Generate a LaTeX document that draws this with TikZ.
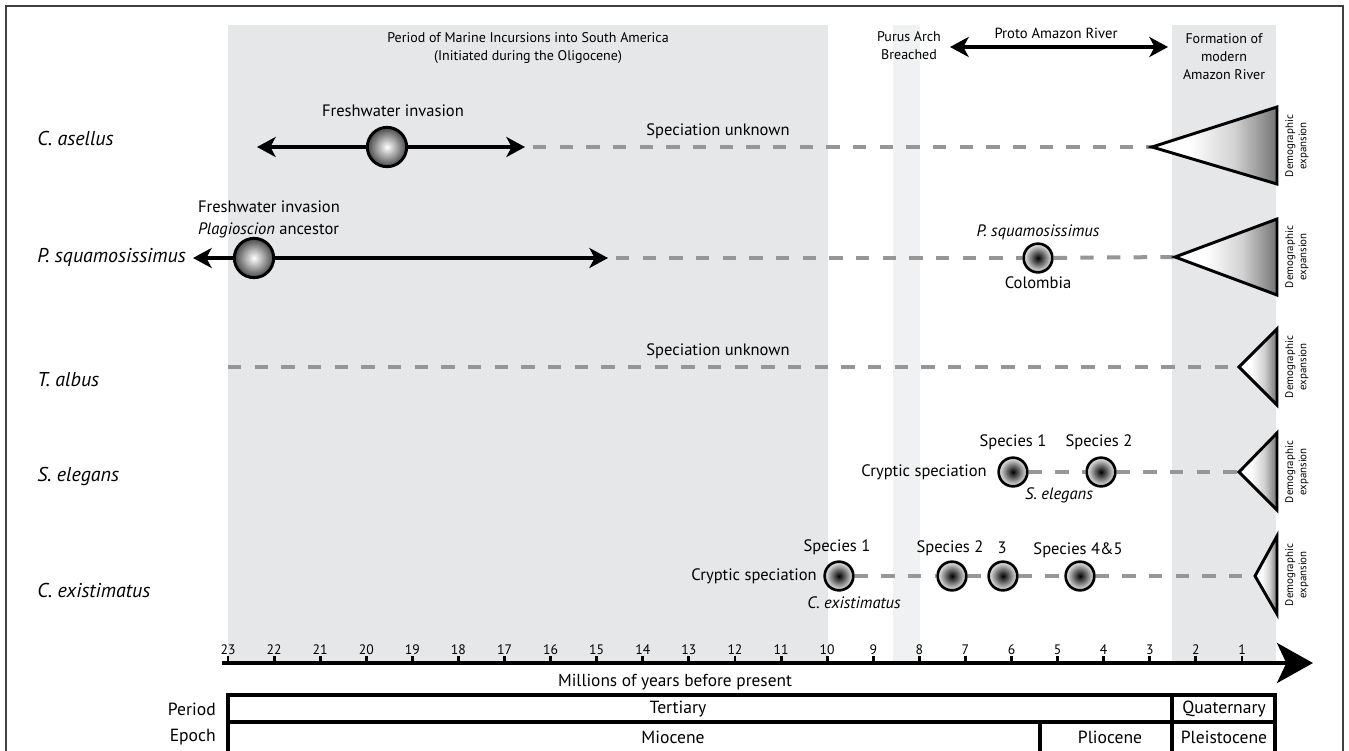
\documentclass[tikz,border=0pt]{standalone}
\usepackage{fontspec}
\setmainfont{PT Sans}
\usetikzlibrary{arrows.meta}
\definecolor{band}{RGB}{230,231,233}
\definecolor{bandlt}{RGB}{240,241,243}
\definecolor{dgray}{RGB}{150,150,150}
\pgfdeclarehorizontalshading{trishade}{100bp}{color(0bp)=(white); color(25bp)=(white); color(40bp)=(white); color(58bp)=(black!18); color(75bp)=(black!55); color(100bp)=(black!55)}
\begin{document}
\begin{tikzpicture}[x=0.75pt,y=-0.75pt,
  >={Stealth[length=14pt,width=15pt,inset=4pt]},
  lbl/.style={font=\fontsize{12.4}{16.5}\selectfont,inner sep=0pt},
  ital/.style={font=\fontsize{12.4}{16.5}\selectfont\itshape,inner sep=0pt},
  rowlbl/.style={font=\fontsize{15}{17}\selectfont\itshape,anchor=west,inner sep=0pt},
  toplbl/.style={font=\fontsize{10.5}{13.5}\selectfont,align=center,inner sep=0pt},
  demo/.style={font=\fontsize{8.2}{10}\selectfont,align=center,rotate=90,inner sep=0pt},
  ticklbl/.style={font=\fontsize{10.3}{12}\selectfont,inner sep=0pt,anchor=base},
  tbl/.style={font=\fontsize{13.2}{15}\selectfont,inner sep=0pt},
  arr/.style={line width=3pt},
  dsh/.style={line width=3pt,dgray,dash pattern=on 10pt off 10pt},
  ball/.style={circle,draw=black,line width=2.2pt,minimum size=29.5pt,inner sep=0pt,shading=radial,inner color=white,outer color=black!72},
  spc/.style={circle,draw=black,line width=2pt,minimum size=21.5pt,inner sep=0pt,shading=radial,inner color=black,outer color=black!6},
  tri/.style={draw=black,line width=2.2pt,line join=miter,shading=trishade},
  tline/.style={line width=3pt}
]
\useasboundingbox (0,0) rectangle (1349,750);
\fill[white] (0,0) rectangle (1349,750);
% background bands
\fill[band] (228,25) rectangle (828,661);
\fill[bandlt] (893,25) rectangle (920,661);
\fill[band] (1172,25) rectangle (1276,661);
\draw[black!75,line width=1.1pt] (6,6) rectangle (1343,770);

% top labels
\node[toplbl] (marine) at (528,48) {Period of Marine Incursions into South America\\(Initiated during the Oligocene)};
\node[toplbl] (purus) at (909,46) {Purus Arch\\Breached};
\node[toplbl,font=\fontsize{11}{13.5}\selectfont] (proto) at (1056,33) {Proto Amazon River};
\coordinate (pL) at (950,47);
\coordinate (pR) at (1168,47);
\draw[line width=2.5pt,<->] (pL) -- (pR);
\node[toplbl] (form) at (1224,57) {Formation of\\modern\\Amazon River};

% Row 1: C. asellus
\node[rowlbl] (n1) at (37,138) {C. asellus};
\node[ball] (b1) at (387,147) {};
\coordinate (a1L) at (257,147);
\coordinate (a1R) at (525,147);
\draw[arr,->] (b1) -- (a1L);
\draw[arr,->] (b1) -- (a1R);
\node[lbl] (fw1) at (393,111) {Freshwater invasion};
\coordinate (d1) at (533,147);
\coordinate (t1) at (1152,147);
\draw[dsh] (d1) -- (t1);
\node[lbl] (su1) at (718,131) {Speciation unknown};
\draw[tri] (t1) -- (1277,107) -- (1277,184) -- cycle;
\node[demo] (de1) at (1297,146) {Demographic\\expansion};

% Row 2: P. squamosissimus
\node[rowlbl] (n2) at (37,257) {P. squamosissimus};
\node[ball] (b2) at (254,258) {};
\coordinate (a2L) at (193,258);
\coordinate (a2R) at (608,258);
\draw[arr,->] (b2) -- (a2L);
\draw[arr,->] (b2) -- (a2R);
\node[lbl,align=left] (fw2) at (269,219) {Freshwater invasion\\\textit{Plagioscion} ancestor};
\coordinate (d2) at (616,258);
\node[spc] (s2) at (1038,258) {};
\coordinate (t2) at (1175,257);
\draw[dsh] (d2) -- (s2);
\draw[dsh] (s2) -- (t2);
\node[ital] (ps2) at (1038,232) {P. squamosissimus};
\node[lbl] (col) at (1038,283) {Colombia};
\draw[tri] (t2) -- (1277,219) -- (1277,295) -- cycle;
\node[demo] (de2) at (1297,257) {Demographic\\expansion};

% Row 3: T. albus
\node[rowlbl] (n3) at (37,380) {T. albus};
\coordinate (d3) at (228,367);
\coordinate (t3) at (1239,367);
\draw[dsh] (d3) -- (t3);
\node[lbl] (su3) at (718,351) {Speciation unknown};
\draw[tri] (t3) -- (1277,329) -- (1277,405) -- cycle;
\node[demo] (de3) at (1297,367) {Demographic\\expansion};

% Row 4: S. elegans
\node[rowlbl] (n4) at (37,476) {S. elegans};
\node[spc] (e1) at (1013,472) {};
\node[spc] (e2) at (1101,472) {};
\coordinate (t4) at (1239,472);
\draw[dsh] (e1) -- (e2);
\draw[dsh] (e2) -- (t4);
\node[lbl] (es1) at (1013,442) {Species 1};
\node[lbl] (es2) at (1099,442) {Species 2};
\node[lbl,anchor=east] (cs4) at (987,472) {Cryptic speciation};
\node[ital] (se) at (1059,495) {S. elegans};
\draw[tri] (t4) -- (1277,433) -- (1277,510) -- cycle;
\node[demo] (de4) at (1297,472) {Demographic\\expansion};

% Row 5: C. existimatus
\node[rowlbl] (n5) at (37,590) {C. existimatus};
\node[spc] (c1) at (839,576) {};
\node[spc] (c2) at (952,576) {};
\node[spc] (c3) at (1003,576) {};
\node[spc] (c4) at (1080,576) {};
\coordinate (t5) at (1255,576);
\draw[dsh] (c1) -- (c2);
\draw[dsh] (c2) -- (c3);
\draw[dsh] (c3) -- (c4);
\draw[dsh] (c4) -- (t5);
\node[lbl] (cs1) at (837,547) {Species 1};
\node[lbl] (cs2) at (950,548) {Species 2};
\node[lbl] (cs3) at (1002,548) {3};
\node[lbl] (cs45) at (1078,550) {Species 4\&5};
\node[lbl,anchor=east] (cs5) at (817,576) {Cryptic speciation};
\node[ital] (ce) at (854,603) {C. existimatus};
\draw[tri] (t5) -- (1277,536) -- (1277,614) -- cycle;
\node[demo] (de5) at (1297,575) {Demographic\\expansion};

% Axis
\coordinate (ax0) at (222,663);
\coordinate (ax1) at (1313,663);
\draw[line width=3pt,-{Stealth[length=27pt,width=30pt,inset=7pt]}] (ax0) -- (ax1);
\foreach \k in {1,...,23}{
  \pgfmathsetmacro\xx{228+46.09*(23-\k)}
  \draw[line width=2.2pt] (\xx,663) -- (\xx,656);
  \node[ticklbl] (tk\k) at (\xx,654) {\k};
}
\node[lbl,font=\fontsize{13}{16}\selectfont] (myr) at (675,682) {Millions of years before present};

% Period / Epoch table
\draw[tline] (228,770) -- (228,695) -- (1275,695) -- (1275,770);
\draw[tline] (228,722) -- (1275,722);
\draw[tline] (1172,695) -- (1172,770);
\draw[tline] (1040,722) -- (1040,770);
\node[tbl,anchor=east] (per) at (216,709) {Period};
\node[tbl,anchor=east] (epo) at (216,737) {Epoch};
\node[tbl] (ter) at (678,709) {Tertiary};
\node[tbl] (qua) at (1224,709) {Quaternary};
\node[tbl] (mio) at (673,737) {Miocene};
\node[tbl] (pli) at (1110,737) {Pliocene};
\node[tbl] (ple) at (1224,737) {Pleistocene};
\end{tikzpicture}
\end{document}
